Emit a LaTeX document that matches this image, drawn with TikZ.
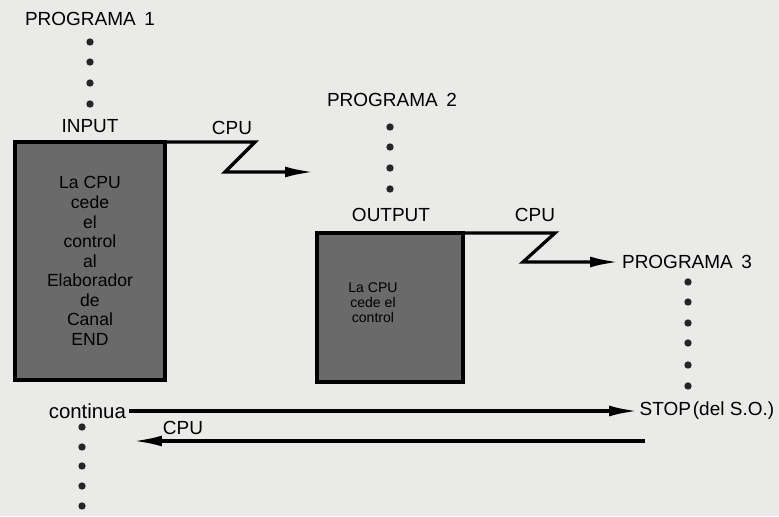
\documentclass[tikz,border=0pt]{standalone}
\usepackage{fontspec}
\setmainfont{Liberation Sans}
\usepackage{xcolor}
\usetikzlibrary{arrows.meta}
\definecolor{paper}{RGB}{234,234,232}
\definecolor{boxgray}{RGB}{106,106,106}

\begin{document}
\begin{tikzpicture}[x=0.025cm, y=-0.025cm,
  lbl/.style={font=\fontsize{13.5}{15}\selectfont, inner sep=2pt},
  proc/.style={draw=black, line width=2.3pt, fill=boxgray, inner sep=0, outer sep=0,
               align=center},
  flow/.style={line width=2.3pt, line join=miter,
               -{Latex[length=0.72cm, width=0.27cm]}},
  dot/.style={fill=black!85},
]
\useasboundingbox[fill=paper] (0,0) rectangle (779,516);
% ---- vertical dotted runs of each program
\foreach \xd/\ys in {90/{42,62,83,104}, 390/{127,147,168,189},
                     688/{282,302,323,343,365,386}, 82/{427,447,466,486,506}} {
  \foreach \yd in \ys {
    \fill[dot] (\xd,\yd) circle[radius=0.092cm];
  }
}
% ---- program 1: input
\node[lbl] (prog1) at (90,19) {PROGRAMA\hspace{0.45em}1};
\node[lbl] (input) at (90,126) {INPUT};
\node[proc, minimum width=3.75cm, minimum height=5.95cm,
      font=\fontsize{12.5}{13.9}\selectfont] (box1) at (90,261)
  {La CPU\\cede\\el\\control\\al\\Elaborador\\de\\Canal\\END};
\node[lbl] (cpu1) at (232,128) {CPU};
\coordinate (zig1) at (225,172);
\coordinate (tip1) at (314,172);
\draw[flow] (box1.north east) -- ++(90,0) -- (zig1) -- (tip1);
% ---- program 2: output
\node[lbl] (prog2) at (392,100) {PROGRAMA\hspace{0.45em}2};
\node[lbl] (output) at (391,215) {OUTPUT};
\node[proc, minimum width=3.65cm, minimum height=3.725cm] (box2) at (390,307.5) {};
\node[font=\fontsize{10}{10.6}\selectfont, align=center, inner sep=0] (box2txt)
  at (373,303) {La CPU\\cede el\\control};
\node[lbl] (cpu2) at (535,215) {CPU};
% ---- program 3 and system stop
\node[lbl, anchor=west] (prog3) at (619,262) {PROGRAMA\hspace{0.45em}3};
\coordinate (zig2) at (523,262);
\draw[flow] (box2.north east) -- ++(92,0) -- (zig2) -- (prog3.west);
\node[lbl, anchor=west, inner sep=1pt] (stop) at (638,411) {STOP\hspace{0.1em}(del S.O.)};
\node[lbl, anchor=east, font=\fontsize{14.5}{16}\selectfont] (cont) at (129,411) {continua};
\draw[flow] (cont.east) -- (stop.west);
\node[lbl] (cpu3) at (183,428) {CPU};
\coordinate (ret) at (645,441);
\coordinate (retend) at (133,441);
\draw[flow] (ret) -- (retend);
\end{tikzpicture}
\end{document}
